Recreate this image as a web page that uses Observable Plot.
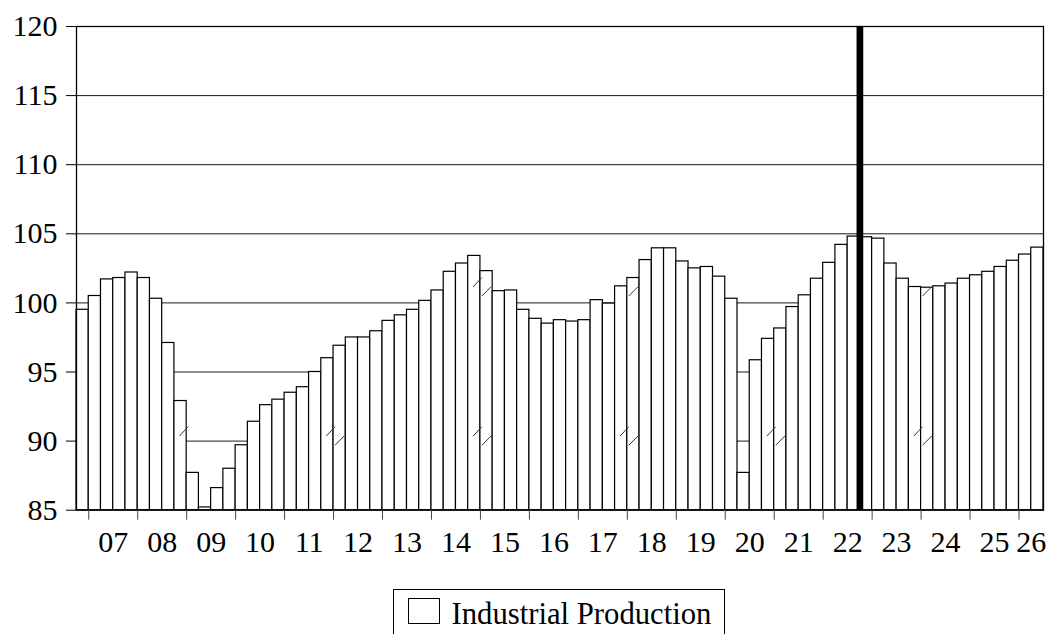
<!DOCTYPE html>
<html>
<head>
<meta charset="utf-8">
<script src="https://cdn.jsdelivr.net/npm/d3@7"></script>
<script src="https://cdn.jsdelivr.net/npm/@observablehq/plot@0.6"></script>
<style>
  html, body { margin: 0; padding: 0; background: #fff; }
  #wrap { position: relative; width: 1062px; height: 634px; overflow: hidden; font-family: "Liberation Serif", "Times New Roman", serif; }
  #legend { position: absolute; left: 393px; top: 589px; width: 332px; height: 60px; border: 1px solid #000; box-sizing: border-box; }
  #legend .sw { position: absolute; left: 13.5px; top: 7.5px; width: 32px; height: 26px; border: 1px solid #000; box-sizing: border-box; background: #fff; }
  #legend .lb { position: absolute; left: 57.5px; top: 9px; font-size: 30.7px; line-height: 1; white-space: nowrap; color: #000; }
</style>
</head>
<body>
<div id="wrap"><div id="chart"></div>
<div id="legend"><div class="sw"></div><div class="lb">Industrial Production</div></div>
</div>
<script>
// ---- data ----
const firstPeriod = { year: 2006, quarter: 4 };
const production = [
  99.5,
  100.5, 101.7, 101.8, 102.2,    // 2007
  101.8, 100.3, 97.1, 92.9,      // 2008
  87.7, 85.2, 86.6, 88.0,        // 2009
  89.7, 91.4, 92.6, 93.0,        // 2010
  93.5, 93.9, 95.0, 96.0,        // 2011
  96.9, 97.5, 97.5, 97.95,       // 2012
  98.7, 99.1, 99.5, 100.15,      // 2013
  100.9, 102.25, 102.85, 103.4,  // 2014
  102.3, 100.85, 100.9, 99.5,    // 2015
  98.85, 98.5, 98.75, 98.65,     // 2016
  98.75, 100.2, 99.95, 101.2,    // 2017
  101.8, 103.1, 103.95, 103.95,  // 2018
  103.0, 102.5, 102.6, 101.9,    // 2019
  100.3, 87.7, 95.85, 97.4,      // 2020
  98.15, 99.7, 100.55, 101.75,   // 2021
  102.9, 104.2, 104.8, 104.75,   // 2022
  104.65, 102.85, 101.75, 101.15,// 2023
  101.1, 101.2, 101.4, 101.75,   // 2024
  102.0, 102.25, 102.6, 103.05,  // 2025
  103.5, 104.0                   // 2026
];
const tickYears = [2007,2008,2009,2010,2011,2012,2013,2014,2015,2016,2017,2018,2019,2020,2021,2022,2023,2024,2025,2026];
const tickLabels = ["07","08","09","10","11","12","13","14","15","16","17","18","19","20","21","22","23","24","25","26"];
const yTicks = [85, 90, 95, 100, 105, 110, 115, 120];
const gridValues = [90, 95, 100, 105, 110, 115];
const markerPeriod = { year: 2022, quarter: 4 };
const breakYears = [2009, 2012, 2015, 2018, 2021, 2024];
const breakLevels = [90.36, 101.16];

// ---- derived table ----
const t0 = firstPeriod.year + (firstPeriod.quarter - 1) / 4;
const bars = production.map((v, i) => ({ x1: t0 + i / 4, x2: t0 + (i + 1) / 4, value: v }));
const xDomain = [t0, t0 + production.length / 4];
const yDomain = [85, 120];
const markerX = markerPeriod.year + (markerPeriod.quarter - 1) / 4;
const labels = tickYears.map((y, i) => ({
  x: (Math.max(y, xDomain[0]) + Math.min(y + 1, xDomain[1])) / 2,
  text: tickLabels[i]
}));
function barValueAt(x) {
  const i = Math.floor((x - t0) * 4);
  return bars[i] ? bars[i].value : yDomain[0];
}
// break slashes, shown only where the bar beneath covers them
const slashes = [];
for (const Y of breakYears) {
  for (const L of breakLevels) {
    const segs = [
      { x1: Y - 0.15, y1: L, x2: Y + 0.03, y2: L + 0.68, bar: Y - 0.1 },
      { x1: Y + 0.03, y1: L - 0.66, x2: Y + 0.22, y2: L + 0.02, bar: Y + 0.1 }
    ];
    for (const s of segs) {
      const v = barValueAt(s.bar);
      if (v <= s.y1) continue;
      if (v < s.y2) {
        const t = (v - s.y1) / (s.y2 - s.y1);
        slashes.push({ x1: s.x1, y1: s.y1, x2: s.x1 + t * (s.x2 - s.x1), y2: v });
      } else slashes.push(s);
    }
  }
}

const H = 580;
const chart = Plot.plot({
  width: 1062,
  height: H,
  marginLeft: 76,
  marginRight: 19,
  marginTop: 26,
  marginBottom: H - 509.7,
  x: { domain: xDomain, axis: null },
  y: { domain: yDomain, axis: null },
  style: { fontFamily: '"Liberation Serif", "Times New Roman", serif', fontSize: "30px", color: "#000", background: "#fff", overflow: "visible" },
  marks: [
    Plot.ruleY(gridValues, { stroke: "#1a1a1a", strokeWidth: 1 }),
    Plot.rectY(bars, { x1: "x1", x2: "x2", y1: yDomain[0], y2: "value", fill: "#fff", stroke: "#000", strokeWidth: 1.2 }),
    Plot.link(slashes, { x1: "x1", y1: "y1", x2: "x2", y2: "y2", stroke: "#333", strokeWidth: 1 }),
    Plot.ruleX([markerX], { stroke: "#000", strokeWidth: 6.7 }),
    Plot.frame({ stroke: "#000", strokeWidth: 1.3 }),
    Plot.axisY({ ticks: yTicks, tickSize: 10, tickPadding: 9, tickFormat: d => String(d), strokeWidth: 1 }),
    Plot.axisX({ ticks: tickYears, tickSize: 10, tickFormat: () => "", strokeWidth: 1, stroke: "#444" }),
    Plot.text(labels, { x: "x", text: "text", frameAnchor: "bottom", lineAnchor: "top", dy: 20.6, fill: "#000" })
  ]
});
document.getElementById("chart").appendChild(chart);
</script>
</body>
</html>
